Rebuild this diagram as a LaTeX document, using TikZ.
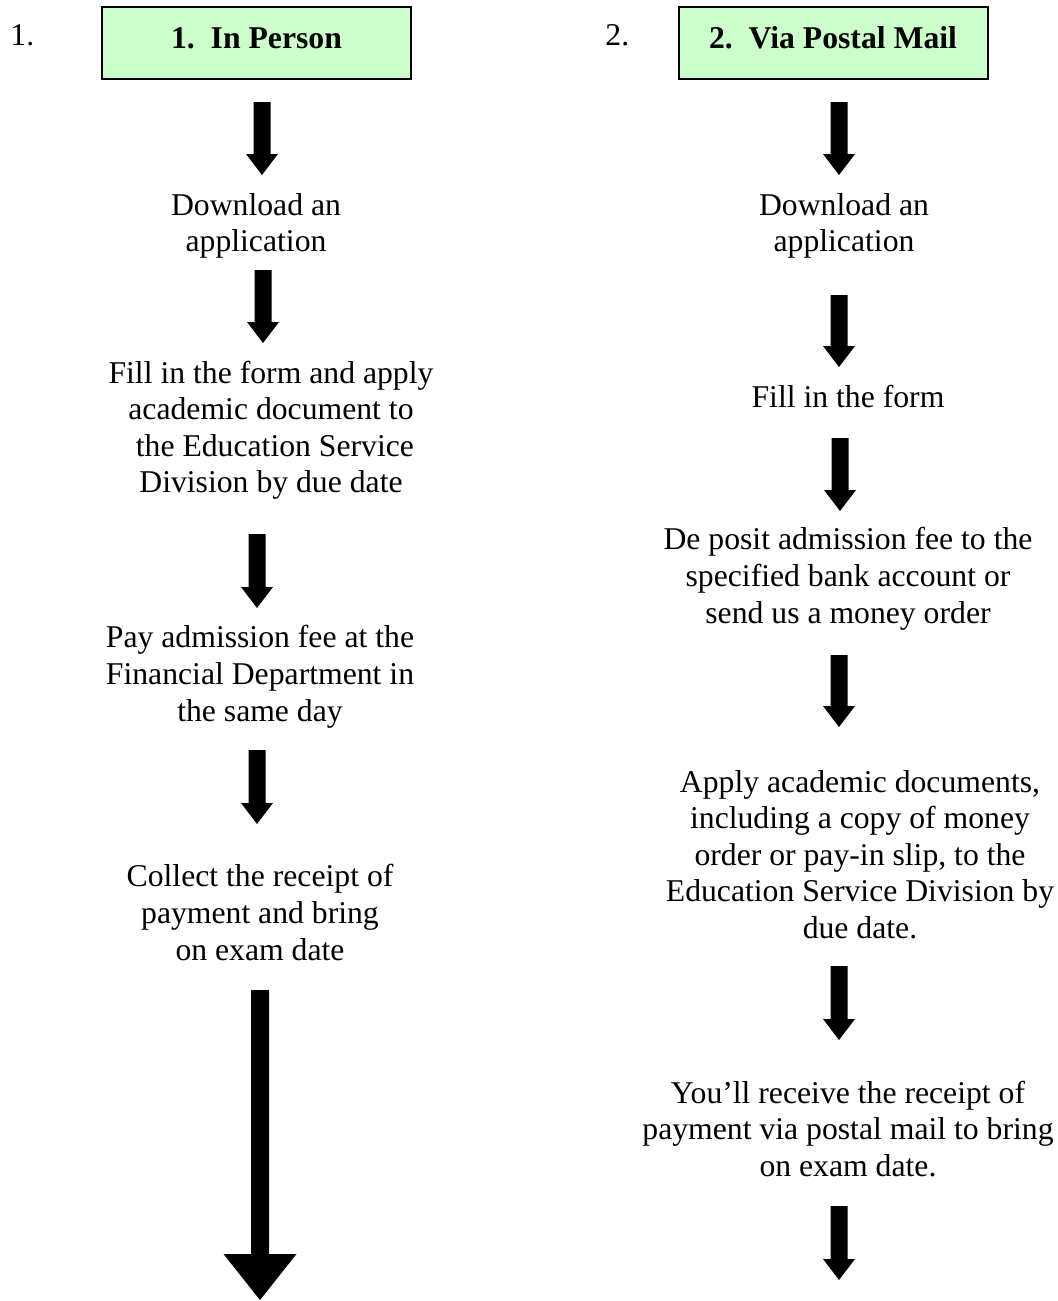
\documentclass[tikz,border=0pt]{standalone}
\usepackage{fontspec}
\setmainfont{Liberation Serif}
\usetikzlibrary{calc}
\definecolor{boxgreen}{HTML}{CCFFCC}
% block arrow from coordinate #1 (top) to coordinate #2 (tip)
% #3 shaft half width, #4 head half width, #5 head length
\newcommand\BlockArrow[5]{%
  \fill let \p1=(#1), \p2=(#2) in
    (\x1-#3,\y1) -- (\x1+#3,\y1) -- (\x1+#3,\y2+#5) -- (\x1+#4,\y2+#5)
    -- (\x1,\y2) -- (\x1-#4,\y2+#5) -- (\x1-#3,\y2+#5) -- cycle;}
% text nodes are anchored at the baseline of their LAST line
\tikzset{
  txt/.style={font=\fontsize{15.85pt}{18.3pt}\selectfont, align=center, inner sep=0pt, anchor=base},
  numlabel/.style={font=\fontsize{15.85pt}{18.3pt}\selectfont, inner sep=0pt, anchor=base west},
  hdr/.style={draw=black, line width=1pt, fill=boxgreen, minimum width=154.5pt, minimum height=36pt,
    inner sep=0pt, font=\bfseries\fontsize{15.85pt}{18.3pt}\selectfont, text height=10.8pt, text depth=5.8pt},
}
\begin{document}
\begin{tikzpicture}[x=0.5pt,y=-0.5pt]
\useasboundingbox (0,0) rectangle (1058,1301);
% headers
\node[numlabel] (n1) at (10,45) {1.};
\node[numlabel] (n2) at (605,45) {2.};
\node[hdr] (h1) at (256.5,43) {1.\hspace{0.5em}In Person};
\node[hdr] (h2) at (833,43) {2.\hspace{0.5em}Via Postal Mail};
% left column texts
\node[txt] (l1) at (256,251.6) {Download an\\application};
\node[txt] (l2) at (271,492.8) {Fill in the form and apply\\academic document to\\~the Education Service\\Division by due date};
\node[txt] (l3) at (260,721) {Pay admission fee at the\\Financial Department in\\the same day};
\node[txt] (l4) at (260,960) {Collect the receipt of\\payment and bring\\on exam date};
% right column texts
\node[txt] (r1) at (844,251.6) {Download an\\application};
\node[txt] (r2) at (848,407) {Fill in the form};
\node[txt] (r3) at (848,623) {De posit admission fee to the\\specified bank account or\\send us a money order};
\node[txt] (r4) at (860,938.4) {Apply academic documents,\\including a copy of money\\order or pay-in slip, to the\\Education Service Division by\\due date.};
\node[txt] (r5) at (848,1176.5) {You’ll receive the receipt of\\payment via postal mail to bring\\on exam date.};
% arrow end points
\coordinate (la1) at (262,102);  \coordinate (lb1) at (262,175);
\coordinate (la2) at (263,270);  \coordinate (lb2) at (263,343);
\coordinate (la3) at (257,534);  \coordinate (lb3) at (257,608);
\coordinate (la4) at (257,750);  \coordinate (lb4) at (257,824);
\coordinate (la5) at (260,990);  \coordinate (lb5) at (260,1300);
\coordinate (ra1) at (839,102);  \coordinate (rb1) at (839,175);
\coordinate (ra2) at (839,295);  \coordinate (rb2) at (839,367);
\coordinate (ra3) at (840,438);  \coordinate (rb3) at (840,511);
\coordinate (ra4) at (839,655);  \coordinate (rb4) at (839,727);
\coordinate (ra5) at (839,966);  \coordinate (rb5) at (839,1040);
\coordinate (ra6) at (839,1206); \coordinate (rb6) at (839,1280);
% arrows
\BlockArrow{la1}{lb1}{4.25pt}{8pt}{10.5pt}
\BlockArrow{la2}{lb2}{4.25pt}{8pt}{10.5pt}
\BlockArrow{la3}{lb3}{4.25pt}{8pt}{10.5pt}
\BlockArrow{la4}{lb4}{4.25pt}{8pt}{10.5pt}
\BlockArrow{la5}{lb5}{4.5pt}{18.25pt}{23pt}
\BlockArrow{ra1}{rb1}{4.25pt}{8pt}{10.5pt}
\BlockArrow{ra2}{rb2}{4.25pt}{8pt}{10.5pt}
\BlockArrow{ra3}{rb3}{4.25pt}{8pt}{10.5pt}
\BlockArrow{ra4}{rb4}{4.25pt}{8pt}{10.5pt}
\BlockArrow{ra5}{rb5}{4.25pt}{8pt}{10.5pt}
\BlockArrow{ra6}{rb6}{4.25pt}{8pt}{10.5pt}
\end{tikzpicture}
\end{document}
